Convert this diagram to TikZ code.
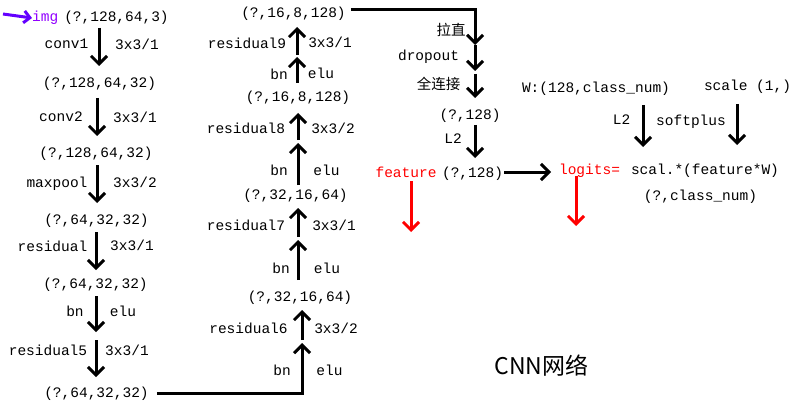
\documentclass[tikz,border=0pt]{standalone}
\usepackage{fontspec}
\setmonofont{Liberation Mono}
\newfontfamily\cjk{Noto Sans CJK SC}
\usetikzlibrary{arrows.meta}
\definecolor{imgpurple}{RGB}{145,0,255}
\definecolor{arrowpurple}{RGB}{100,0,255}

\begin{document}
\begin{tikzpicture}[x=1pt,y=-1pt,
    txt/.style={
    font=\fontsize{14.5}{17}\selectfont\ttfamily,
    inner sep=0pt,
    text height=10pt,
    text depth=3pt,
    yshift=-2pt},
    redtxt/.style={txt,text=red},
    cntxt/.style={txt,font=\fontsize{14.5}{17}\selectfont\cjk},
    myarrow/.style={line width=3pt,-{Straight Barb[length=8pt,width=16pt]}},
    redarrow/.style={myarrow,draw=red},
    ]
    \useasboundingbox (0,0) rectangle (808,409);

    % input column
    \node[txt,text=imgpurple,anchor=west] (img) at (32,16) {img};
    \coordinate (in) at (3,14);
    \draw[line width=3pt,draw=arrowpurple,-{Straight Barb[length=6pt,width=12pt]}] (in) -- (img.west);
    \node[txt] (s0) at (116.5,16) {(?,128,64,3)};

    \coordinate (a1t) at (99,28); \coordinate (a1h) at (99,66);
    \draw[myarrow] (a1t) -- (a1h);
    \node[txt] (conv1) at (66.5,43) {conv1};
    \node[txt] (k1) at (137,44) {3x3/1};
    \node[txt] (s1) at (99.5,82) {(?,128,64,32)};

    \coordinate (a2t) at (97,98); \coordinate (a2h) at (97,136);
    \draw[myarrow] (a2t) -- (a2h);
    \node[txt] (conv2) at (61,116) {conv2};
    \node[txt] (k2) at (135,117) {3x3/1};
    \node[txt] (s2) at (96,152) {(?,128,64,32)};

    \coordinate (a3t) at (97,165); \coordinate (a3h) at (97,203);
    \draw[myarrow] (a3t) -- (a3h);
    \node[txt] (pool) at (57,182) {maxpool};
    \node[txt] (k3) at (135,182) {3x3/2};
    \node[txt] (s3) at (96.5,219) {(?,64,32,32)};

    \coordinate (a4t) at (96,232); \coordinate (a4h) at (96,270);
    \draw[myarrow] (a4t) -- (a4h);
    \node[txt] (res) at (52.5,246) {residual};
    \node[txt] (k4) at (132,245) {3x3/1};
    \node[txt] (s4) at (95.5,283) {(?,64,32,32)};

    \coordinate (a5t) at (96,296); \coordinate (a5h) at (96,332);
    \draw[myarrow] (a5t) -- (a5h);
    \node[txt] (bn1) at (75,311) {bn};
    \node[txt] (elu1) at (123,311) {elu};

    \coordinate (a6t) at (96,340); \coordinate (a6h) at (96,377);
    \draw[myarrow] (a6t) -- (a6h);
    \node[txt] (res5) at (48,350) {residual5};
    \node[txt] (k5) at (127,350) {3x3/1};
    \node[txt] (s5) at (96.5,392) {(?,64,32,32)};

    % second column, going up
    \coordinate (turn1) at (302,393); \coordinate (a7h) at (302,343);
    \draw[myarrow] ([xshift=8pt]s5.east |- turn1) -- (turn1) -- (a7h);
    \node[txt] (bn2) at (282,370) {bn};
    \node[txt] (elu2) at (329.5,370) {elu};

    \coordinate (a8t) at (302,340); \coordinate (a8h) at (302,310);
    \draw[myarrow] (a8t) -- (a8h);
    \node[txt] (res6) at (248.5,328) {residual6};
    \node[txt] (k6) at (336,328) {3x3/2};
    \node[txt] (s6) at (300,296) {(?,32,16,64)};

    \coordinate (a9t) at (298,280); \coordinate (a9h) at (298,240);
    \draw[myarrow] (a9t) -- (a9h);
    \node[txt] (bn3) at (281,268) {bn};
    \node[txt] (elu3) at (327,268) {elu};

    \coordinate (a10t) at (298,237); \coordinate (a10h) at (298,208);
    \draw[myarrow] (a10t) -- (a10h);
    \node[txt] (res7) at (246,225) {residual7};
    \node[txt] (k7) at (334,225) {3x3/1};
    \node[txt] (s7) at (295.5,194) {(?,32,16,64)};

    \coordinate (a11t) at (298,185); \coordinate (a11h) at (298,143);
    \draw[myarrow] (a11t) -- (a11h);
    \node[txt] (bn4) at (279,170) {bn};
    \node[txt] (elu4) at (326.5,170) {elu};

    \coordinate (a12t) at (298,140); \coordinate (a12h) at (298,113);
    \draw[myarrow] (a12t) -- (a12h);
    \node[txt] (res8) at (246,128) {residual8};
    \node[txt] (k8) at (333,128) {3x3/2};
    \node[txt] (s8) at (298,96) {(?,16,8,128)};

    \coordinate (a13t) at (297,83); \coordinate (a13h) at (297,57);
    \draw[myarrow] (a13t) -- (a13h);
    \node[txt] (bn5) at (279,74) {bn};
    \node[txt] (elu5) at (321,73) {elu};

    \coordinate (a14t) at (297,55); \coordinate (a14h) at (297,27);
    \draw[myarrow] (a14t) -- (a14h);
    \node[txt] (res9) at (247,43) {residual9};
    \node[txt] (k9) at (330,42) {3x3/1};
    \node[txt] (s9) at (293.5,12) {(?,16,8,128)};

    % third column
    \coordinate (turn2) at (475,10); \coordinate (a15h) at (475,45);
    \draw[myarrow] ([xshift=5pt]s9.east |- turn2) -- (turn2) -- (a15h);
    \node[cntxt] (flat) at (451,30) {拉直};

    \coordinate (a16h) at (475,71);
    \draw[myarrow] (a15h) -- (a16h);
    \node[txt] (drop) at (428.5,55) {dropout};

    \coordinate (a17t) at (475,74); \coordinate (a17h) at (475,98);
    \draw[myarrow] (a17t) -- (a17h);
    \node[cntxt] (fc) at (438.5,84) {全连接};
    \node[txt] (s10) at (470,114) {(?,128)};

    \coordinate (a18t) at (475,125); \coordinate (a18h) at (475,158);
    \draw[myarrow] (a18t) -- (a18h);
    \node[txt] (l2a) at (453,138) {L2};

    \node[redtxt] (feat) at (406,172) {feature};
    \node[txt] (s11) at (472.5,172) {(?,128)};
    \coordinate (f1) at (411,181); \coordinate (f2) at (411,232);
    \draw[redarrow] (f1) -- (f2);

    \node[redtxt] (logits) at (589.5,169) {logits=};
    \node[txt] (formula) at (705,169) {scal.*(feature*W)};
    \coordinate (hop) at (504,172); \coordinate (hoph) at (551,172);
    \draw[myarrow] (hop) -- (hoph);
    \coordinate (g1) at (576,176); \coordinate (g2) at (576,226);
    \draw[redarrow] (g1) -- (g2);
    \node[txt] (out) at (700.5,195) {(?,class\_num)};

    \node[txt] (w) at (596,87) {W:(128,class\_num)};
    \coordinate (a19t) at (643,105); \coordinate (a19h) at (643,147);
    \draw[myarrow] (a19t) -- (a19h);
    \node[txt] (l2b) at (621.5,119) {L2};

    \node[txt] (scale) at (747.5,85) {scale (1,)};
    \coordinate (a20t) at (737,104); \coordinate (a20h) at (737,145);
    \draw[myarrow] (a20t) -- (a20h);
    \node[txt] (sp) at (691,120) {softplus};

    \node[inner sep=0pt,font=\fontsize{23}{27}\selectfont\cjk] (title) at (541.5,366) {CNN网络};
\end{tikzpicture}
\end{document}
